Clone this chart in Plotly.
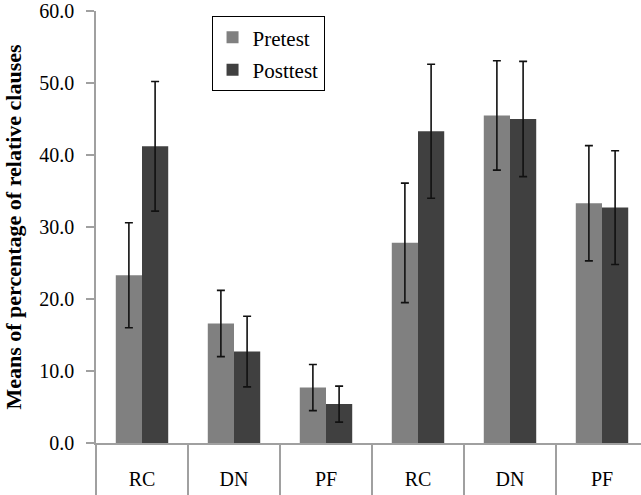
import plotly.graph_objects as go

categories = ["RC", "DN", "PF", "RC", "DN", "PF"]
pretest = [23.3, 16.6, 7.7, 27.8, 45.5, 33.3]
pretest_err = [7.3, 4.6, 3.2, 8.3, 7.6, 8.0]
posttest = [41.2, 12.7, 5.4, 43.3, 45.0, 32.7]
posttest_err = [9.0, 4.9, 2.5, 9.3, 8.0, 7.9]
y_ticks = [0, 10, 20, 30, 40, 50, 60]

x = list(range(len(categories)))
boundaries = [i - 0.5 for i in range(len(categories) + 1)]
font = "Liberation Serif"
axis_gray = "#a0a0a0"

fig = go.Figure()
fig.add_trace(go.Bar(
    x=x, y=pretest, name="Pretest", legendgroup="a",
    marker=dict(color="#808080", line=dict(width=0)),
    error_y=dict(type="data", array=pretest_err, color="#111111", thickness=1.6, width=4),
))
fig.add_trace(go.Bar(
    x=x, y=posttest, name="Posttest", legendgroup="b",
    marker=dict(color="#404040", line=dict(width=0)),
    error_y=dict(type="data", array=posttest_err, color="#111111", thickness=1.6, width=4),
))

fig.update_layout(
    width=641, height=495,
    margin=dict(l=96, r=0, t=11, b=52, autoexpand=False),
    paper_bgcolor="white", plot_bgcolor="white",
    barmode="group", bargap=0.43, bargroupgap=0,
    font=dict(family=font, size=20, color="black"),
    showlegend=True,
    legend=dict(
        x=0.212, y=0.988, xanchor="left", yanchor="top",
        bordercolor="black", borderwidth=1, bgcolor="white",
        font=dict(family=font, size=21, color="black"),
        tracegroupgap=2, itemwidth=30,
    ),
    xaxis=dict(
        range=[-0.5, -0.5 + 545 / 92],
        tickmode="array", tickvals=x, ticktext=categories,
        ticks="", showline=True, linecolor=axis_gray, linewidth=1.5,
        showgrid=False, zeroline=False, ticklabelstandoff=17,
        tickfont=dict(family=font, size=20, color="black"),
        minor=dict(tickmode="array", tickvals=boundaries, ticks="outside",
                   ticklen=52, tickcolor=axis_gray, tickwidth=1.5, showgrid=False),
    ),
    yaxis=dict(
        range=[0, 60], tickmode="array", tickvals=y_ticks,
        ticktext=[f"{v:.1f}" for v in y_ticks],
        ticks="outside", ticklen=8, tickcolor=axis_gray, tickwidth=1.5,
        showline=True, linecolor=axis_gray, linewidth=1.5,
        showgrid=False, zeroline=False,
        ticklabeloverflow="allow", ticklabelstandoff=8,
        tickfont=dict(family=font, size=20, color="black"),
        title=dict(text="<b>Means of percentage of relative clauses</b>",
                   font=dict(family=font, size=22, color="black"), standoff=12),
    ),
)

fig.write_html(
    "out.html",
    config={"displayModeBar": False},
    post_script="document.body.style.margin='0';document.body.style.padding='0';",
)
